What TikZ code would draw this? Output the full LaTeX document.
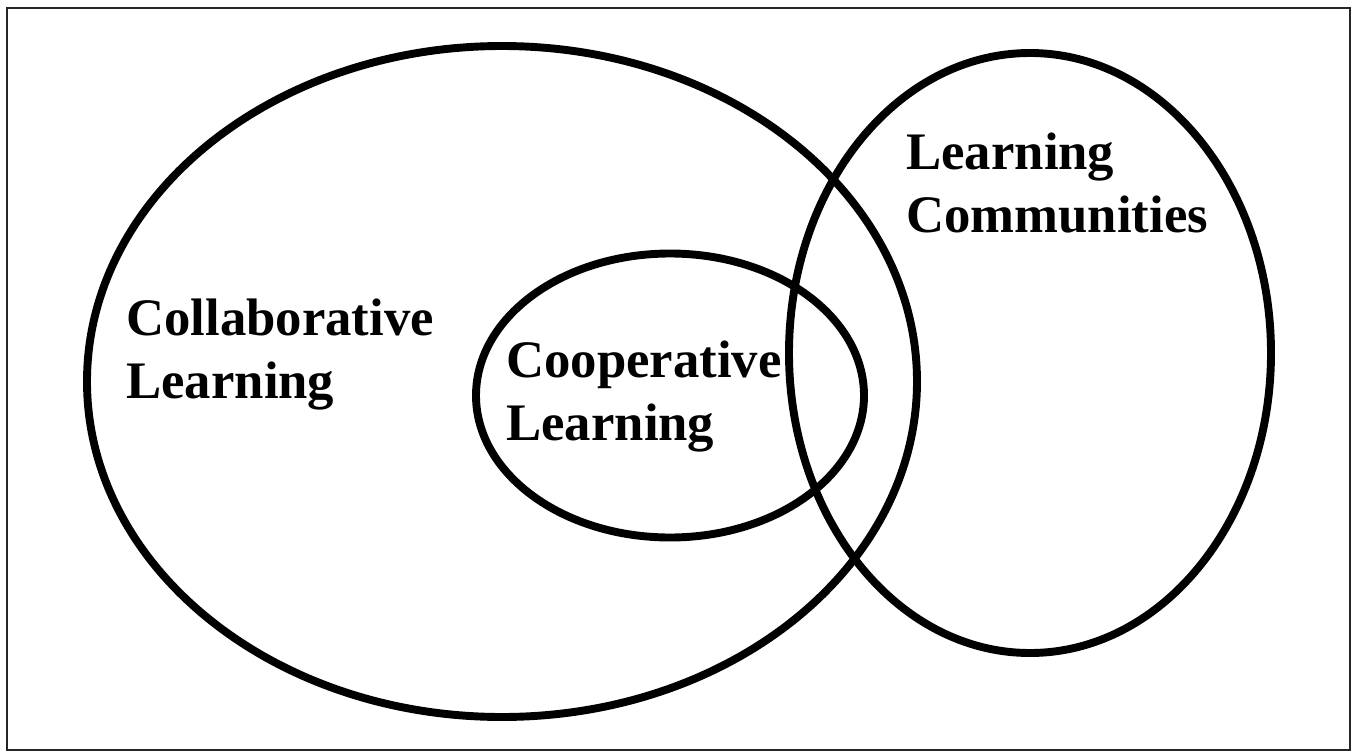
\documentclass[tikz,border=0pt]{standalone}
\usepackage{fontspec}
\setmainfont{Liberation Serif}
\usepackage{xcolor}
\usepackage{tikz}
\usetikzlibrary{shapes.geometric, positioning}

\begin{document}
\begin{tikzpicture}[
    set/.style={draw, ellipse, line width=4.5pt, inner sep=0pt},
    label/.style={anchor=base west, inner sep=0pt, align=left, font=\fontsize{30}{35.5}\selectfont\bfseries}
]
    \useasboundingbox (0,0) rectangle (27.04,-15.04);
    \draw[black!85, line width=1.4pt] (0.14,-0.16) rectangle (27.0,-15.0);

    \node[set, minimum width=16.6cm, minimum height=13.42cm] (collab) at (10.04,-7.63) {};
    \node[set, minimum width=7.76cm, minimum height=5.68cm] (coop) at (13.4,-7.91) {};
    \node[set, minimum width=9.64cm, minimum height=12cm] (commun) at (20.6,-7.06) {};

    \node[label] (collabtext) at (2.52,-7.96) {Collaborative\\Learning};
    \node[label] (cooptext) at (10.12,-8.80) {Cooperative\\Learning};
    \node[label] (communtext) at (18.12,-4.64) {Learning\\Communities};
\end{tikzpicture}
\end{document}
